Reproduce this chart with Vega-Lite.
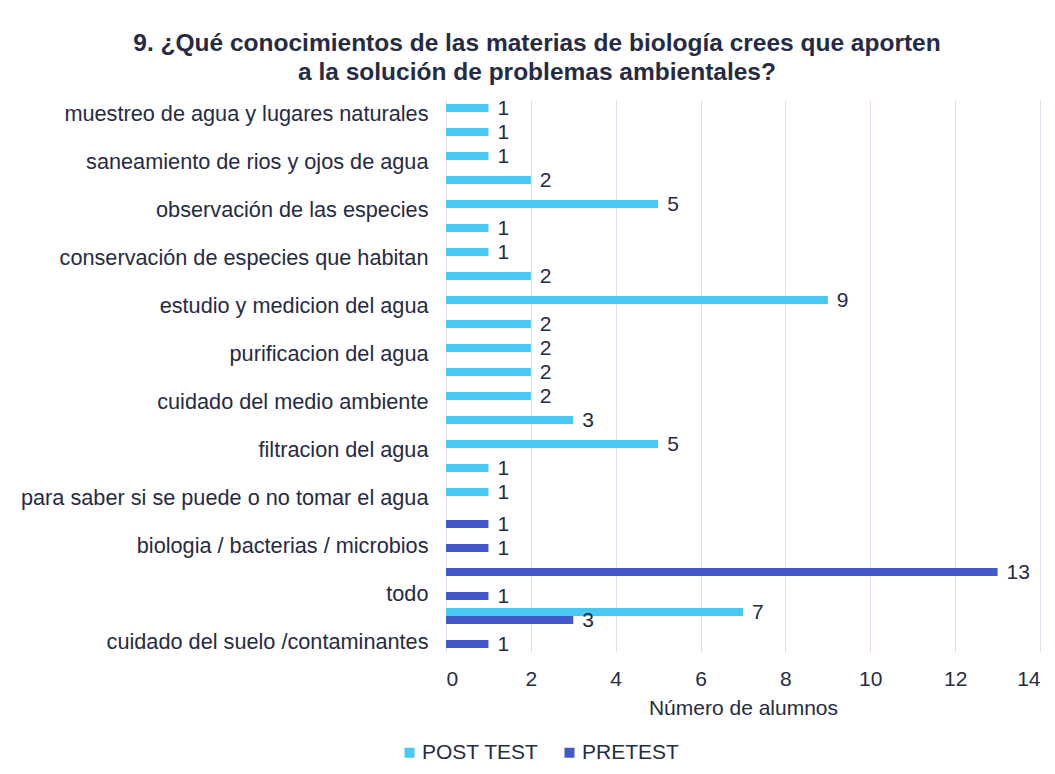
{
  "$schema": "https://vega.github.io/schema/vega-lite/v6.json",
  "width": 594,
  "height": 552,
  "autosize": {"type": "none"},
  "padding": {"left": 446, "top": 100, "right": 15, "bottom": 122},
  "background": "white",
  "config": {"view": {"stroke": null}, "font": "Liberation Sans"},
  "title": {
    "text": ["9. ¿Qué conocimientos de las materias de biología crees que aporten", "a la solución de problemas ambientales?"],
    "fontSize": 24.5,
    "fontWeight": "bold",
    "color": "#262B44",
    "anchor": "middle",
    "frame": "group",
    "dx": -206,
    "offset": 13,
    "lineHeight": 29
  },
  "data": {
    "values": [
      {"k": 0, "cat": "muestreo de agua y lugares naturales", "series": "POST TEST", "value": 1},
      {"k": 1, "cat": "#1", "series": "POST TEST", "value": 1},
      {"k": 2, "cat": "saneamiento de rios y ojos de agua", "series": "POST TEST", "value": 1},
      {"k": 3, "cat": "#3", "series": "POST TEST", "value": 2},
      {"k": 4, "cat": "observación de las especies", "series": "POST TEST", "value": 5},
      {"k": 5, "cat": "#5", "series": "POST TEST", "value": 1},
      {"k": 6, "cat": "conservación de especies que habitan", "series": "POST TEST", "value": 1},
      {"k": 7, "cat": "#7", "series": "POST TEST", "value": 2},
      {"k": 8, "cat": "estudio y medicion del agua", "series": "POST TEST", "value": 9},
      {"k": 9, "cat": "#9", "series": "POST TEST", "value": 2},
      {"k": 10, "cat": "purificacion del agua", "series": "POST TEST", "value": 2},
      {"k": 11, "cat": "#11", "series": "POST TEST", "value": 2},
      {"k": 12, "cat": "cuidado del medio ambiente", "series": "POST TEST", "value": 2},
      {"k": 13, "cat": "#13", "series": "POST TEST", "value": 3},
      {"k": 14, "cat": "filtracion del agua", "series": "POST TEST", "value": 5},
      {"k": 15, "cat": "#15", "series": "POST TEST", "value": 1},
      {"k": 16, "cat": "para saber si se puede o no tomar el agua", "series": "POST TEST", "value": 1},
      {"k": 17, "cat": "#17", "series": "PRETEST", "value": 1},
      {"k": 18, "cat": "biologia / bacterias / microbios", "series": "PRETEST", "value": 1},
      {"k": 19, "cat": "#19", "series": "PRETEST", "value": 13},
      {"k": 20, "cat": "todo", "series": "PRETEST", "value": 1},
      {"k": 21, "cat": "#21", "series": "POST TEST", "value": 7},
      {"k": 21, "cat": "#21", "series": "PRETEST", "value": 3},
      {"k": 22, "cat": "cuidado del suelo /contaminantes", "series": "PRETEST", "value": 1}
    ]
  },
  "encoding": {
    "y": {
      "field": "cat",
      "type": "nominal",
      "sort": {"field": "k", "op": "min"},
      "scale": {"paddingInner": 0.3333, "paddingOuter": 0.1667},
      "axis": {
        "title": null,
        "ticks": false,
        "domain": true,
        "domainColor": "#DCDDF0",
        "labelFontSize": 21.7,
        "labelColor": "#262B44",
        "labelPadding": 18,
        "labelLimit": 500,
        "labelBaseline": "middle",
        "labelOffset": 2,
        "labelExpr": "indexof(datum.value, '#') === 0 ? '' : datum.value"
      }
    },
    "yOffset": {"field": "series", "type": "nominal", "sort": ["POST TEST", "PRETEST"]},
    "x": {
      "field": "value",
      "type": "quantitative",
      "scale": {"domain": [0, 14], "nice": false},
      "axis": {
        "values": [0, 2, 4, 6, 8, 10, 12, 14],
        "grid": true,
        "gridColor": "#DCDDF0",
        "ticks": false,
        "domain": false,
        "labelFontSize": 21,
        "labelColor": "#262B44",
        "labelPadding": 16,
        "title": "Número de alumnos",
        "titleFontSize": 21,
        "titleFontWeight": "normal",
        "titleColor": "#262B44",
        "titlePadding": 8
      }
    }
  },
  "layer": [
    {
      "mark": {"type": "bar"},
      "encoding": {
        "color": {
          "field": "series",
          "type": "nominal",
          "scale": {"domain": ["POST TEST", "PRETEST"], "range": ["#48C9F1", "#4358C9"]},
          "legend": {
            "orient": "none",
            "legendX": -47,
            "legendY": 642,
            "direction": "horizontal",
            "title": null,
            "symbolType": "square",
            "symbolSize": 100,
            "symbolStrokeWidth": 0,
            "labelFontSize": 21,
            "labelColor": "#262B44",
            "labelOffset": 2,
            "columnPadding": 20
          }
        }
      }
    },
    {
      "mark": {"type": "text", "align": "left", "baseline": "middle", "dx": 9, "dy": 1, "fontSize": 21, "color": "#262B44"},
      "encoding": {"text": {"field": "value", "type": "quantitative"}}
    }
  ]
}
